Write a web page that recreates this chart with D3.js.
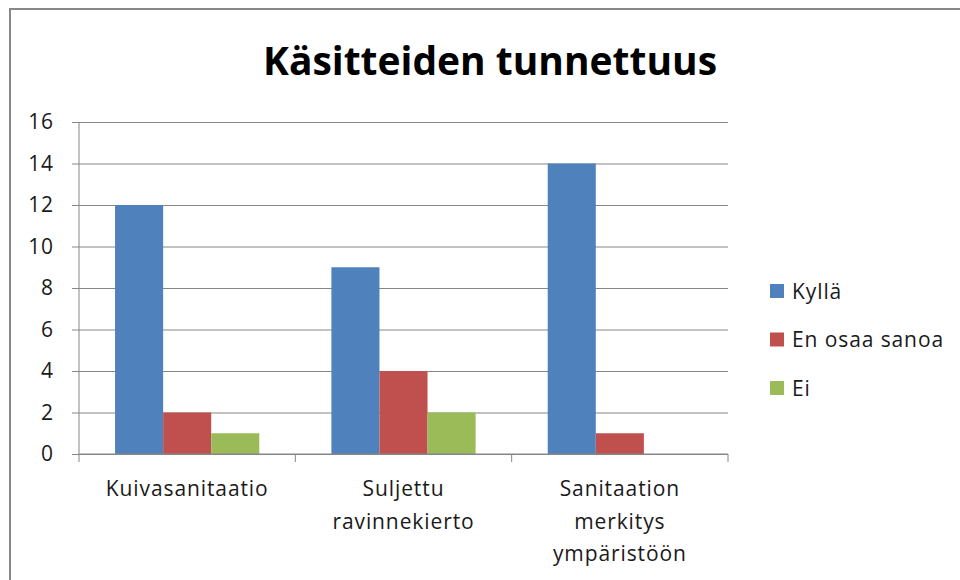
<!DOCTYPE html>
<html>
<head>
<meta charset="utf-8">
<script src="https://cdn.jsdelivr.net/npm/d3@7"></script>
<style>
  body { margin: 0; background: #fff; }
  svg { display: block; }
</style>
</head>
<body>
<div id="chart"></div>
<script>
// data
const categories = ['Kuivasanitaatio', 'Suljettu\nravinnekierto', 'Sanitaation\nmerkitys\nympäristöön']
const seriesNames = ['Kyllä', 'En osaa sanoa', 'Ei']
const kylla = [12, 9, 14]
const enOsaaSanoa = [2, 4, 1]
const ei = [1, 2, 0]
const yTicks = [0, 2, 4, 6, 8, 10, 12, 14, 16]

const COLORS = ['#4F81BD', '#C0504D', '#9BBB59']
const GRID = '#868686'
const FONT = '"Open Sans", "Noto Sans", sans-serif'

const width = 960
const height = 580

let svg = d3.select('#chart').append('svg')
	.attr('width', width)
	.attr('height', height)

// outer chart border
svg.append('rect')
	.attr('x', 10)
	.attr('y', 9)
	.attr('width', width + 20)
	.attr('height', height + 20)
	.attr('fill', '#fff')
	.attr('stroke', '#888')
	.attr('stroke-width', 2)

svg.append('text')
	.attr('x', 490)
	.attr('y', 75)
	.attr('text-anchor', 'middle')
	.attr('textLength', 454)
	.attr('lengthAdjust', 'spacingAndGlyphs')
	.style('font-family', FONT)
	.style('font-weight', '700')
	.style('font-size', '39px')
	.attr('fill', '#000')
	.text('Käsitteiden tunnettuus')

let plot = { left: 79, right: 728, top: 122, bottom: 454 }

let x0 = d3.scaleBand()
	.domain(categories)
	.range([plot.left, plot.right])

// Excel style: gap width 150% of a bar
let barW = x0.bandwidth() / 4.5
let x1 = d3.scaleBand()
	.domain(seriesNames)
	.range([barW * 0.75, x0.bandwidth() - barW * 0.75])

let y = d3.scaleLinear()
	.domain([0, 16])
	.range([plot.bottom, plot.top])

function labelStyle(sel) {
	sel.style('font-family', FONT)
		.style('font-size', '21px')
		.style('letter-spacing', '0.9px')
		.attr('fill', '#1a1a1a')
}

// gridlines + y labels
let yAxis = svg.append('g')
	.attr('transform', `translate(${plot.left},0)`)
	.call(d3.axisLeft(y).tickValues(yTicks).tickSize(-(plot.right - plot.left)).tickPadding(0))
yAxis.select('.domain').remove()
yAxis.selectAll('.tick line')
	.attr('x1', -7)
	.attr('stroke', GRID)
yAxis.selectAll('.tick text')
	.attr('x', -25)
	.call(labelStyle)

// y axis line
svg.append('line')
	.attr('x1', plot.left).attr('x2', plot.left)
	.attr('y1', plot.top).attr('y2', plot.bottom)
	.attr('stroke', GRID)

// bars
let table = categories.map((c, i) => ({
	category: c,
	values: [kylla[i], enOsaaSanoa[i], ei[i]],
}))

let group = svg.selectAll('.cat')
	.data(table)
	.enter()
		.append('g')
		.attr('class', 'cat')
		.attr('transform', d => `translate(${x0(d.category)},0)`)

group.selectAll('rect')
	.data(d => d.values.map((v, j) => ({ name: seriesNames[j], value: v, idx: j })))
	.enter()
		.append('rect')
		.attr('x', d => x1(d.name))
		.attr('width', x1.bandwidth())
		.attr('y', d => y(d.value))
		.attr('height', d => y(0) - y(d.value))
		.attr('fill', d => COLORS[d.idx])

// x axis
let xAxis = svg.append('g')
	.attr('transform', `translate(0,${plot.bottom})`)
xAxis.append('line')
	.attr('x1', plot.left).attr('x2', plot.right)
	.attr('stroke', GRID)
let bounds = categories.map(c => x0(c)).concat([plot.right])
xAxis.selectAll('.xtick')
	.data(bounds)
	.enter()
		.append('line')
		.attr('x1', d => d).attr('x2', d => d)
		.attr('y1', 0).attr('y2', 8)
		.attr('stroke', GRID)

xAxis.selectAll('.xlabel')
	.data(categories)
	.enter()
		.append('text')
		.attr('class', 'xlabel')
		.attr('text-anchor', 'middle')
		.attr('transform', d => `translate(${x0(d) + x0.bandwidth() / 2},0)`)
		.call(labelStyle)
		.each(function (d) {
			d.split('\n').forEach((line, i) => {
				d3.select(this).append('tspan')
					.attr('x', 0)
					.attr('y', 42 + i * 32.5)
					.text(line)
			})
		})

// legend
let legend = svg.selectAll('.legend')
	.data(seriesNames)
	.enter()
		.append('g')
		.attr('class', 'legend')
		.attr('transform', (d, i) => `translate(770,${291 + i * 48.5})`)

legend.append('rect')
	.attr('x', 0)
	.attr('y', -7)
	.attr('width', 14)
	.attr('height', 14)
	.attr('fill', (d, i) => COLORS[i])

legend.append('text')
	.attr('x', 22)
	.attr('dy', '0.36em')
	.call(labelStyle)
	.text(d => d)
</script>
</body>
</html>
